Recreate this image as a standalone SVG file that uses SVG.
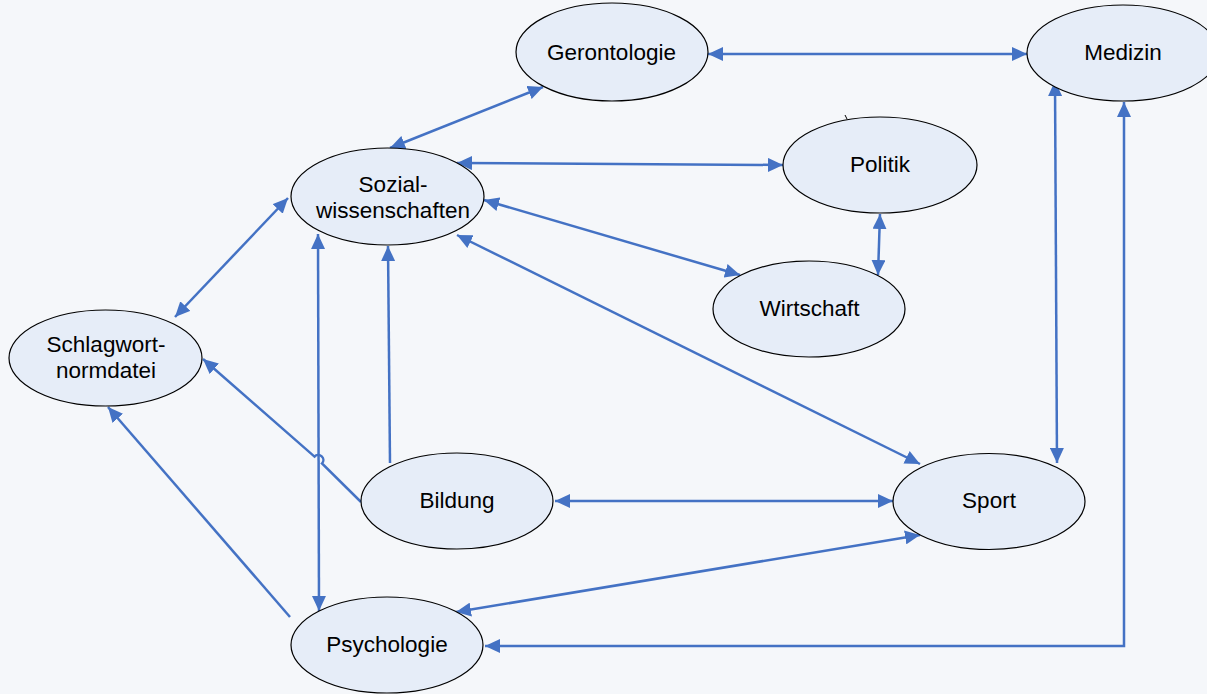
<svg xmlns="http://www.w3.org/2000/svg" width="1207" height="694" viewBox="0 0 1207 694">
<style>
.n ellipse{fill:#e6edf8;stroke:#000;stroke-width:1.2}
.n text{font-family:"Liberation Sans",Arial,sans-serif;font-size:22.5px;fill:#000;text-anchor:middle}
.c path{fill:none;stroke:#4472c4;stroke-width:2.5}
</style>
<defs>
<marker id="a" markerUnits="userSpaceOnUse" markerWidth="15" markerHeight="14" refX="15" refY="7" orient="auto-start-reverse" viewBox="0 0 15 14"><path d="M0,0 L15,7 L0,14 z" fill="#4472c4"/></marker>
</defs>
<rect width="1207" height="694" fill="#f5f7fa"/>
<g class="c" id="connectors">
<path d="M708,54 L1027,54" marker-start="url(#a)" marker-end="url(#a)"/>
<path d="M543,87 L390,148" marker-start="url(#a)" marker-end="url(#a)"/>
<path d="M457,163 L783,165" marker-start="url(#a)" marker-end="url(#a)"/>
<path d="M484,200 L740,275" marker-start="url(#a)" marker-end="url(#a)"/>
<path d="M457,235 L920,464" marker-start="url(#a)" marker-end="url(#a)"/>
<path d="M880,214 L878,275" marker-start="url(#a)" marker-end="url(#a)"/>
<path d="M288,198 L175,317" marker-start="url(#a)" marker-end="url(#a)"/>
<path d="M318,234 L319,611" marker-start="url(#a)" marker-end="url(#a)"/>
<path d="M390,463 L388,246" marker-end="url(#a)"/>
<path d="M361,502 L322,463.5 A4.5,4.5 0 0 0 314.5,456.6 L203,359" marker-end="url(#a)"/>
<path d="M555,501 L893,501" marker-start="url(#a)" marker-end="url(#a)"/>
<path d="M290,617 L108,407" marker-end="url(#a)"/>
<path d="M1055,81 L1057,463" marker-start="url(#a)" marker-end="url(#a)"/>
<path d="M1124,102 L1124,646 L485,646" marker-start="url(#a)" marker-end="url(#a)"/>
<path d="M920,535 L456,612" marker-start="url(#a)" marker-end="url(#a)"/>
<path d="M845,115 L847,119" style="stroke:#000;stroke-width:1"/>
</g>
<g class="n" id="gerontologie"><ellipse cx="612" cy="52" rx="96" ry="49"/><text x="611.5" y="60">Gerontologie</text></g>
<g class="n" id="medizin"><ellipse cx="1123" cy="53" rx="96" ry="48"/><text x="1123" y="60">Medizin</text></g>
<g class="n" id="politik"><ellipse cx="880" cy="165" rx="97" ry="48"/><text x="880" y="172">Politik</text></g>
<g class="n" id="sozialwissenschaften"><ellipse cx="387.5" cy="196.5" rx="96.5" ry="48.5"/><text x="393" y="192">Sozial-</text><text x="393" y="218">wissenschaften</text></g>
<g class="n" id="wirtschaft"><ellipse cx="809" cy="309" rx="96" ry="48"/><text x="809.5" y="316">Wirtschaft</text></g>
<g class="n" id="schlagwortnormdatei"><ellipse cx="105.5" cy="358" rx="96.5" ry="48"/><text x="106" y="352">Schlagwort-</text><text x="106" y="378">normdatei</text></g>
<g class="n" id="bildung"><ellipse cx="457" cy="501" rx="96" ry="48"/><text x="457" y="508">Bildung</text></g>
<g class="n" id="sport"><ellipse cx="989" cy="501.5" rx="96" ry="48"/><text x="989" y="508">Sport</text></g>
<g class="n" id="psychologie"><ellipse cx="387" cy="645" rx="96" ry="48"/><text x="387" y="652">Psychologie</text></g>
</svg>
